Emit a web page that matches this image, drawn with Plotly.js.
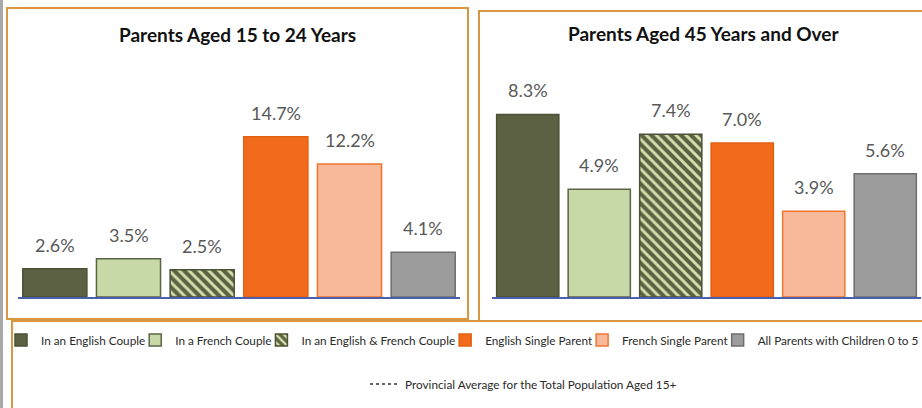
<!DOCTYPE html>
<html>
<head>
<meta charset="utf-8">
<script src="https://cdn.plot.ly/plotly-3.0.1.min.js"></script>
<style>html,body{margin:0;padding:0;background:#fff;overflow:hidden;}#chart{width:922px;height:408px;}</style>
</head>
<body>
<div id="chart"></div>
<script>
// ---- data ----
const categories = ['In an English Couple', 'In a French Couple', 'In an English & French Couple',
  'English Single Parent', 'French Single Parent', 'All Parents with Children 0 to 5'];
const young = [2.6, 3.5, 2.5, 14.7, 12.2, 4.1];   // Parents Aged 15 to 24 Years (%)
const older = [8.3, 4.9, 7.4, 7.0, 3.9, 5.6];     // Parents Aged 45 Years and Over (%)
const panelTitles = ['Parents Aged 15 to 24 Years', 'Parents Aged 45 Years and Over'];
const avgLabel = 'Provincial Average for the Total Population Aged 15+';
const avgValues = [null];

// ---- styles ----
const W = 922, H = 408;
const px = x => x / W;
const py = y => 1 - y / H;
const fills = ['#5b6142', '#c8d9a8', '#5b6142', '#f26a1c', '#f8b99b', '#9c9c9c'];
const lines = ['#4c5236', '#5b6446', '#4c5236', '#e2600f', '#f07630', '#6e6e6e'];
const family = 'Lato, "Liberation Sans", sans-serif';
const labelFont = {family: family, size: 18, color: '#595959'};

const traces = [];
categories.forEach((c, i) => {
  const lg = i === 0 ? 'legend' : 'legend' + (i + 1);
  const marker = {color: fills[i], line: {color: lines[i], width: 1.5}};
  if (i === 2) {
    marker.pattern = {shape: '\\', bgcolor: fills[i], fgcolor: '#d3e1ad', size: 7, solidity: 0.42, fillmode: 'replace'};
  }
  traces.push({type: 'bar', x: [c], y: [young[i]], name: c, xaxis: 'x', yaxis: 'y', width: 0.87,
    marker: marker, legend: lg, legendgroup: 'g' + i, showlegend: true, hoverinfo: 'skip'});
  traces.push({type: 'bar', x: [c], y: [older[i]], name: c, xaxis: 'x2', yaxis: 'y2', width: 0.87,
    marker: marker, legend: lg, legendgroup: 'g' + i, showlegend: false, hoverinfo: 'skip'});
});
traces.push({type: 'scatter', mode: 'lines', x: [categories[0]], y: avgValues, name: avgLabel,
  xaxis: 'x', yaxis: 'y', line: {color: '#333333', width: 1.5, dash: 'dot'}, legend: 'legend7', showlegend: true});

const annotations = [];
[[young, 'x', 'y'], [older, 'x2', 'y2']].forEach(([vals, xr, yr]) => {
  vals.forEach((v, i) => {
    annotations.push({xref: xr, yref: yr, x: categories[i], y: v, text: v.toFixed(1) + '%',
      showarrow: false, yanchor: 'middle', yshift: 24, font: labelFont});
  });
});
const titleFont = {family: family, size: 19, color: '#111111', weight: 'bold'};
annotations.push({xref: 'paper', yref: 'paper', x: px(237.5), y: py(34), text: '<b>' + panelTitles[0] + '</b>',
  showarrow: false, xanchor: 'center', yanchor: 'middle', font: titleFont});
annotations.push({xref: 'paper', yref: 'paper', x: px(703), y: py(33), text: '<b>' + panelTitles[1] + '</b>',
  showarrow: false, xanchor: 'center', yanchor: 'middle', font: titleFont});

const border = '#d9983f';
const shapes = [
  {type: 'line', xref: 'paper', yref: 'paper', x0: px(1.5), x1: px(1.5), y0: 0, y1: 1, line: {color: '#a8a8a8', width: 3}},
  {type: 'rect', xref: 'paper', yref: 'paper', x0: px(7), x1: px(468), y0: py(319), y1: py(8), line: {color: border, width: 2}},
  {type: 'rect', xref: 'paper', yref: 'paper', x0: px(479), x1: px(934), y0: py(321), y1: py(11), line: {color: border, width: 2}},
  {type: 'rect', xref: 'paper', yref: 'paper', x0: px(12), x1: px(934), y0: py(430), y1: py(321), line: {color: border, width: 2}}
];

const xBase = {showline: true, linecolor: '#4a5fae', linewidth: 1.5, showticklabels: false, ticks: '',
  showgrid: false, zeroline: false, fixedrange: true, type: 'category', categoryorder: 'array',
  categoryarray: categories, range: [-0.5, 5.5]};
const yBase = {visible: false, showgrid: false, zeroline: false, fixedrange: true};

const layout = {
  width: W, height: H, margin: {l: 0, r: 0, t: 0, b: 0, autoexpand: false},
  paper_bgcolor: '#ffffff', plot_bgcolor: 'rgba(0,0,0,0)', barmode: 'overlay',
  font: {family: family, color: '#333333'},
  xaxis: Object.assign({}, xBase, {domain: [px(18), px(460)], anchor: 'y'}),
  yaxis: Object.assign({}, yBase, {domain: [py(297), py(60)], range: [0, 237 / 10.9], anchor: 'x'}),
  xaxis2: Object.assign({}, xBase, {domain: [px(492), px(921)], anchor: 'y2'}),
  yaxis2: Object.assign({}, yBase, {domain: [py(297), py(60)], range: [0, 237 / 22], anchor: 'x2'}),
  annotations: annotations, shapes: shapes, hovermode: false
};

// legend row: pick the largest font that fits one row, then pack entries left to right.
// Each Plotly entry: symbol at +14..+26, text from +40; next symbol placed a few px after the text ends.
const ctx = document.createElement('canvas').getContext('2d');
const measure = (s, size) => { ctx.font = size + 'px Lato'; return ctx.measureText(s).width; };
const START = 1, END = 921, AFTER = 4;
const rowEnd = size => START + categories.reduce((a, c) => a + 40 + measure(c, size) + AFTER - 14, 0) + 14 - AFTER;
let legSize = 15;
while (legSize > 9 && rowEnd(legSize) > END) legSize -= 0.25;
const legFont = {family: family, size: legSize, color: '#2a2a2a'};
let cursor = START;
categories.forEach((c, i) => {
  const key = i === 0 ? 'legend' : 'legend' + (i + 1);
  layout[key] = {orientation: 'h', x: px(cursor), xanchor: 'left', y: py(340), yanchor: 'middle',
    bgcolor: 'rgba(0,0,0,0)', borderwidth: 0, font: legFont, itemclick: false, itemdoubleclick: false};
  cursor += 40 + measure(c, legSize) + AFTER - 14;
});
// second row: the dotted "provincial average" entry, text spanning about x 405..678
const avgSize = Math.min(14, legSize * 273 / measure(avgLabel, legSize));
layout.legend7 = {orientation: 'h', x: px(405 - 40), xanchor: 'left', y: py(384), yanchor: 'middle',
  bgcolor: 'rgba(0,0,0,0)', borderwidth: 0, font: {family: family, size: avgSize, color: '#2a2a2a'},
  itemclick: false, itemdoubleclick: false};

Plotly.newPlot('chart', traces, layout, {displayModeBar: false, staticPlot: true});
</script>
</body>
</html>
